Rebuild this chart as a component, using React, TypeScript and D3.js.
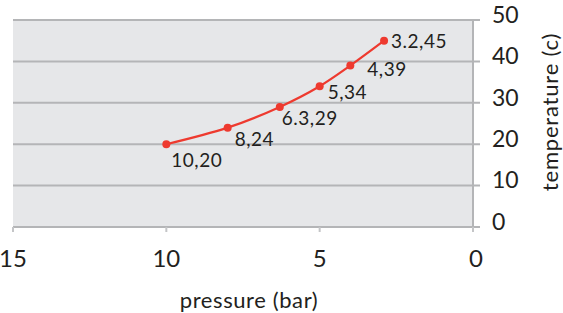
import React from 'react';
import * as d3 from 'd3';

// pressure (bar) vs temperature (c) -- last point sits a bit right of 3.2 in the source
const pressure = [10, 8, 6.3, 5, 4, 2.9];
const temperature = [20, 24, 29, 34, 39, 45];
const pointLabels = ['10,20', '8,24', '6.3,29', '5,34', '4,39', '3.2,45'];
const xTicks = [15, 10, 5, 0];
const yTicks = [0, 10, 20, 30, 40, 50];

// label nudges, px (layout only)
const labelNudge: [number, number][] = [
  [5, 23],
  [7, 18],
  [2, 18],
  [8, 13],
  [17, 10],
  [7, 7],
];

const W = 563;
const H = 313;
const plot = { left: 13, right: 473, top: 20, bottom: 227 };
const font = 'Lato, "Open Sans", sans-serif';
const ink = '#231f20';

export default function App() {
  const x = d3.scaleLinear().domain([15, 0]).range([plot.left, plot.right]);
  const y = d3.scaleLinear().domain([0, 50]).range([plot.bottom, plot.top]);

  const pts = pressure.map((p, i) => ({ p, t: temperature[i], label: pointLabels[i] }));
  const line = d3
    .line<{ p: number; t: number }>()
    .x((d) => x(d.p))
    .y((d) => y(d.t))
    .curve(d3.curveCatmullRom.alpha(0.5));

  return (
    <svg
      width={W}
      height={H}
      style={{ position: 'absolute', left: 0, top: 0, background: '#fff' }}
      fontFamily={font}
    >
      <rect
        x={plot.left}
        y={plot.top}
        width={plot.right - plot.left}
        height={plot.bottom - plot.top}
        fill="#e6e7e9"
      />
      {yTicks.map((v) => (
        <line
          key={'g' + v}
          x1={plot.left}
          x2={plot.right + 7}
          y1={y(v)}
          y2={y(v)}
          stroke="#b4b5b7"
          strokeWidth={2}
        />
      ))}
      <line x1={plot.right} x2={plot.right} y1={plot.top} y2={plot.bottom + 3} stroke="#b4b5b7" strokeWidth={2} />
      {xTicks.map((v) => (
        <line key={'xt' + v} x1={x(v)} x2={x(v)} y1={plot.bottom} y2={plot.bottom + 5} stroke="#c4c5c7" strokeWidth={2} />
      ))}
      {yTicks.map((v) => (
        <text key={'yl' + v} x={492} y={y(v) - 3} dominantBaseline="middle" fontSize={23} fill={ink}>
          {v}
        </text>
      ))}
      {xTicks.map((v) => (
        <text
          key={'xl' + v}
          x={x(v) + (v === 0 ? 3 : 0)}
          y={261}
          textAnchor="middle"
          dominantBaseline="middle"
          fontSize={24}
          fill={ink}
        >
          {v}
        </text>
      ))}
      <path d={line(pts) ?? ''} fill="none" stroke="#ee3a2f" strokeWidth={2.2} />
      {pts.map((d, i) => (
        <g key={'p' + i}>
          <circle cx={x(d.p)} cy={y(d.t)} r={4} fill="#ee3a2f" />
          <text
            x={x(d.p) + labelNudge[i][0]}
            y={y(d.t) + labelNudge[i][1]}
            fontSize={19}
            letterSpacing={0.5}
            fill={ink}
          >
            {d.label}
          </text>
        </g>
      ))}
      <text x={249} y={308} textAnchor="middle" fontSize={22} letterSpacing={0.6} fill={ink}>
        pressure (bar)
      </text>
      <text
        transform="translate(558, 112) rotate(-90)"
        textAnchor="middle"
        fontSize={22}
        letterSpacing={0.8}
        fill={ink}
      >
        temperature (c)
      </text>
    </svg>
  );
}
